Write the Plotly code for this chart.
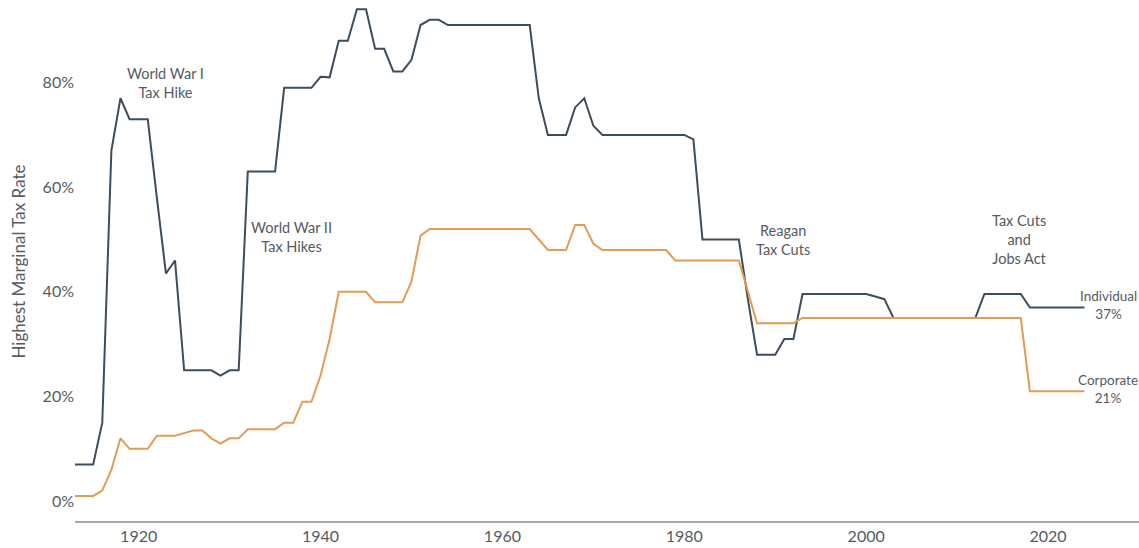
import plotly.graph_objects as go

years = list(range(1913, 2025))

individual = [
    7, 7, 7, 15, 67, 77, 73, 73, 73, 58,          # 1913-1922
    43.5, 46, 25, 25, 25, 25, 24, 25, 25, 63,     # 1923-1932
    63, 63, 63, 79, 79, 79, 79, 81.1, 81, 88,     # 1933-1942
    88, 94, 94, 86.45, 86.45, 82.13, 82.13, 84.36, 91, 92,  # 1943-1952
    92, 91, 91, 91, 91, 91, 91, 91, 91, 91,       # 1953-1962
    91, 77, 70, 70, 70, 75.25, 77, 71.75, 70, 70, # 1963-1972
    70, 70, 70, 70, 70, 70, 70, 70, 69.13, 50,    # 1973-1982
    50, 50, 50, 50, 38.5, 28, 28, 28, 31, 31,     # 1983-1992
    39.6, 39.6, 39.6, 39.6, 39.6, 39.6, 39.6, 39.6, 39.1, 38.6,  # 1993-2002
    35, 35, 35, 35, 35, 35, 35, 35, 35, 35,       # 2003-2012
    39.6, 39.6, 39.6, 39.6, 39.6, 37, 37, 37, 37, 37,  # 2013-2022
    37, 37,                                       # 2023-2024
]

corporate = [
    1, 1, 1, 2, 6, 12, 10, 10, 10, 12.5,          # 1913-1922
    12.5, 12.5, 13, 13.5, 13.5, 12, 11, 12, 12, 13.75,  # 1923-1932
    13.75, 13.75, 13.75, 15, 15, 19, 19, 24, 31, 40,    # 1933-1942
    40, 40, 40, 38, 38, 38, 38, 42, 50.75, 52,    # 1943-1952
    52, 52, 52, 52, 52, 52, 52, 52, 52, 52,       # 1953-1962
    52, 50, 48, 48, 48, 52.8, 52.8, 49.2, 48, 48, # 1963-1972
    48, 48, 48, 48, 48, 48, 46, 46, 46, 46,       # 1973-1982
    46, 46, 46, 46, 40, 34, 34, 34, 34, 34,       # 1983-1992
    35, 35, 35, 35, 35, 35, 35, 35, 35, 35,       # 1993-2002
    35, 35, 35, 35, 35, 35, 35, 35, 35, 35,       # 2003-2012
    35, 35, 35, 35, 35, 21, 21, 21, 21, 21,       # 2013-2022
    21, 21,                                       # 2023-2024
]

y_ticks = [0, 20, 40, 60, 80]
y_labels = ["0%", "20%", "40%", "60%", "80%"]
x_ticks = [1920, 1940, 1960, 1980, 2000, 2020]

events = [
    (1923.0, 80, "World War I<br>Tax Hike"),
    (1936.85, 50.5, "World War II<br>Tax Hikes"),
    (1990.9, 50, "Reagan<br>Tax Cuts"),
    (2016.9, 50.0, "Tax Cuts<br>and<br>Jobs Act"),
]

IND_COLOR = "#3d4d5c"
CORP_COLOR = "#e39a52"
TEXT_COLOR = "#555b61"
FONT = "Lato, 'Noto Sans', sans-serif"

fig = go.Figure()
fig.add_trace(go.Scatter(x=years, y=individual, mode="lines", name="Individual",
                         line=dict(color=IND_COLOR, width=2)))
fig.add_trace(go.Scatter(x=years, y=corporate, mode="lines", name="Corporate",
                         line=dict(color=CORP_COLOR, width=2)))

for x, y, text in events:
    fig.add_annotation(x=x, y=y, text=text, showarrow=False,
                       font=dict(size=14.5, color=TEXT_COLOR, family=FONT),
                       align="center")

# end-of-line labels
fig.add_annotation(x=2026.6, y=37.5, text="Individual<br>37%", showarrow=False,
                   font=dict(size=13.5, color=TEXT_COLOR, family=FONT), align="center")
fig.add_annotation(x=2026.6, y=21.4, text="Corporate<br>21%", showarrow=False,
                   font=dict(size=13.5, color=TEXT_COLOR, family=FONT), align="center")

fig.update_layout(
    width=1139, height=548,
    margin=dict(l=75, r=0, t=2, b=27),
    plot_bgcolor="white", paper_bgcolor="white",
    showlegend=False,
    font=dict(family=FONT, color=TEXT_COLOR, size=16),
)
fig.update_xaxes(range=[1913, 2030], showgrid=False, zeroline=False,
                 showline=True, linecolor="#a3a8ad", linewidth=2,
                 tickvals=x_ticks, ticks="",
                 tickfont=dict(size=16, color=TEXT_COLOR))
fig.update_yaxes(range=[-3.8, 95.4], showgrid=False, zeroline=False,
                 tickvals=y_ticks, ticktext=y_labels, ticks="",
                 tickfont=dict(size=16, color=TEXT_COLOR),
                 title=dict(text="Highest Marginal Tax Rate", standoff=12,
                            font=dict(size=17, color=TEXT_COLOR)))

fig.write_html("out.html", config={"displayModeBar": False},
               post_script="document.body.style.margin='0';document.body.style.overflow='hidden';")
